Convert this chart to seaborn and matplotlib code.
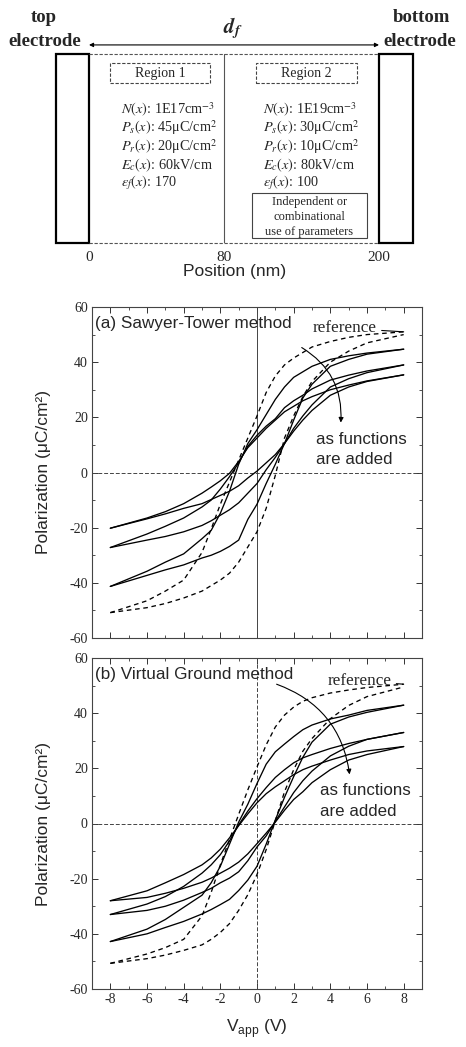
import numpy as np
import pandas as pd
import matplotlib
matplotlib.use("Agg")
import matplotlib.pyplot as plt
import seaborn as sns
from matplotlib.patches import Rectangle
from matplotlib.ticker import MultipleLocator

# ---------------- data ----------------
V = [-8, -6, -5, -4, -3, -2.5, -2, -1.5, -1, -0.5, 0, 0.5, 1, 1.5, 2, 2.5, 3, 4, 5, 6, 8]

# (a) Sawyer-Tower method
a_ref_desc = [-50.8, -46.5, -43, -39, -29, -20.5, -11.5, -3.5, 4.5, 12.5, 20.5, 29, 35, 39, 41.5, 43.5, 45.5, 47.5, 49, 50, 51]
a_ref_asc = [-50.8, -49, -47.5, -45.5, -43, -41, -39, -36.5, -32.5, -27, -21.5, -13, -1, 12.5, 20.5, 27.5, 33, 40, 44, 47, 50]
a3_desc = [-41.3, -35.8, -32.5, -29.5, -24, -21, -14.8, -6.8, 3, 10.5, 15.5, 21, 26.5, 31, 34.5, 36.5, 38.5, 41, 42.3, 43.3, 44.7]
a3_asc = [-41.3, -37.3, -35.3, -33.5, -31, -30, -28.6, -26.8, -24.5, -17, -11.5, -4, 3, 10.5, 19, 27, 32, 38.5, 41, 42.9, 44.7]
a2_desc = [-27.2, -22.3, -19.5, -16.5, -12.5, -10, -6, -1.5, 3.5, 9.5, 13.5, 16.8, 19.5, 23.5, 26, 28, 30.3, 33.5, 35.3, 36.8, 39]
a2_asc = [-27.2, -24.5, -23.2, -21.5, -19.2, -17.5, -15.5, -13.5, -11, -7.5, -4, 1, 5.5, 10.5, 16, 20.5, 24.5, 31, 34, 36.2, 39]
a1_desc = [-20.2, -16.5, -14.2, -11.3, -7.5, -5.3, -3, -0.3, 4, 9, 12.5, 16, 19, 22, 24, 26, 27.5, 30, 31.7, 33.2, 35.4]
a1_asc = [-20.2, -16.8, -15, -13, -11.3, -9.8, -8.3, -6.8, -4.8, -2, 0.5, 3.5, 6.5, 10.5, 15, 19, 22.5, 28, 31, 33, 35.4]

# (b) Virtual Ground method
b_ref_desc = [-50.7, -47.3, -45, -42, -33.5, -25, -15, -5.8, 3.3, 12.2, 20.5, 28.5, 35, 39.3, 42.2, 44.3, 45.6, 47.3, 48.4, 49.3, 50.5]
b_ref_asc = [-50.7, -49, -47.7, -46, -44, -42, -39.5, -36.3, -31.5, -25.8, -18.5, -9.5, 1, 11.5, 19.5, 26.2, 30.8, 38, 42.8, 46, 49.5]
b3_desc = [-42.8, -38.3, -34.8, -30.4, -26, -21.5, -15.5, -7.5, 0.5, 7, 14.5, 21.5, 26, 28.8, 31.5, 34, 35.7, 37.9, 39.3, 41, 42.9]
b3_asc = [-42.8, -40, -37.7, -35.5, -32.8, -31.2, -29.4, -27.5, -24.3, -20.5, -15.5, -7.5, 1.3, 9.5, 17, 24, 29.5, 36, 38.6, 40.3, 42.9]
b2_desc = [-33, -29.2, -26.5, -22.8, -18, -15, -11.3, -6.3, -0.5, 4.5, 9, 13, 16.7, 19.5, 22, 23.8, 25, 27.2, 29, 30.5, 33]
b2_asc = [-33, -31.5, -30, -27.8, -25, -23.5, -21.5, -19.8, -17.5, -13.5, -8.5, -4.5, 0.8, 6, 11.2, 15.5, 19, 24.5, 28, 30.5, 33]
b1_desc = [-28, -24.4, -21.5, -18.5, -15, -12.5, -9.3, -5.2, -0.8, 3.5, 7.5, 10.8, 13.3, 15.5, 17.7, 19.5, 20.8, 23, 25, 26.3, 27.9]
b1_asc = [-28, -26.8, -25.3, -23.5, -21.3, -19.8, -18, -16.2, -14, -11, -7.3, -3.5, 0.5, 4.8, 8.7, 11.5, 14.8, 19.5, 23, 25, 27.9]

# schematic
boundaries_nm = [0, 80, 200]
region_titles = ["Region 1", "Region 2"]
region1_params = ["$N(x)$: 1E17cm$^{-3}$", "$P_s(x)$: 45μC/cm$^{2}$", "$P_r(x)$: 20μC/cm$^{2}$",
                  "$E_c(x)$: 60kV/cm", r"$\varepsilon_f(x)$: 170"]
region2_params = ["$N(x)$: 1E19cm$^{-3}$", "$P_s(x)$: 30μC/cm$^{2}$", "$P_r(x)$: 10μC/cm$^{2}$",
                  "$E_c(x)$: 80kV/cm", r"$\varepsilon_f(x)$: 100"]
note_lines = ["Independent or", "combinational", "use of parameters"]

# ---------------- style ----------------
sns.set_theme(style="ticks")
plt.rcParams['font.family'] = ['Liberation Sans', 'DejaVu Sans']
plt.rcParams['axes.unicode_minus'] = False
SERIF = ['Liberation Serif', 'DejaVu Serif']

W, H = 466, 1047
fig = plt.figure(figsize=(W / 100, H / 100), dpi=100)
fig.patch.set_facecolor('white')


def fx(px):
    return px / W


def fy(py):
    return 1 - py / H


def panel_frame(branches):
    frames = []
    for name, (kind, vals) in branches.items():
        frames.append(pd.DataFrame({'V': V, 'P': vals, 'trace': name, 'kind': kind}))
    return pd.concat(frames, ignore_index=True)


df_a = panel_frame({
    'ref_d': ('reference', a_ref_desc), 'ref_a': ('reference', a_ref_asc),
    'l3_d': ('measured', a3_desc), 'l3_a': ('measured', a3_asc),
    'l2_d': ('measured', a2_desc), 'l2_a': ('measured', a2_asc),
    'l1_d': ('measured', a1_desc), 'l1_a': ('measured', a1_asc),
})
df_b = panel_frame({
    'ref_d': ('reference', b_ref_desc), 'ref_a': ('reference', b_ref_asc),
    'l3_d': ('measured', b3_desc), 'l3_a': ('measured', b3_asc),
    'l2_d': ('measured', b2_desc), 'l2_a': ('measured', b2_asc),
    'l1_d': ('measured', b1_desc), 'l1_a': ('measured', b1_asc),
})

ax_a = fig.add_axes([fx(92), fy(638), (422 - 92) / W, (638 - 307) / H])
ax_b = fig.add_axes([fx(92), fy(989), (422 - 92) / W, (989 - 658) / H])


def draw_panel(ax, df, ref_desc, label, vzero_ls, ref_xy, func_xy, arr_start, arr_end):
    ax.axhline(0, color='#444444', lw=0.7, ls=(0, (4, 2)), zorder=1)
    ax.axvline(0, color='#444444', lw=0.7, ls=vzero_ls, zorder=1)
    sns.lineplot(data=df, x='V', y='P', units='trace', estimator=None, sort=False,
                 style='kind', dashes={'measured': '', 'reference': (3.5, 2.8)},
                 color='black', linewidth=0.95, legend=False, ax=ax, zorder=3)
    ax.set_xlim(-9, 9)
    ax.set_ylim(-60, 60)
    ax.xaxis.set_major_locator(MultipleLocator(2))
    ax.xaxis.set_minor_locator(MultipleLocator(1))
    ax.yaxis.set_major_locator(MultipleLocator(20))
    ax.yaxis.set_minor_locator(MultipleLocator(10))
    ax.tick_params(which='both', direction='in', top=True, right=True, color='#333333',
                   labelsize=10, labelfontfamily='Liberation Serif', pad=3)
    ax.tick_params(which='major', length=4, width=0.7)
    ax.tick_params(which='minor', length=2, width=0.6)
    for s in ax.spines.values():
        s.set_color('#444444')
        s.set_linewidth(0.8)
    ax.set_xlabel('')
    ax.set_ylabel('Polarization (μC/cm²)', fontsize=12.5)
    ax.yaxis.set_label_coords(-0.125, 0.5)
    ax.text(0.01, 0.949, label, transform=ax.transAxes, ha='left', va='center', fontsize=12.3)
    ax.annotate('reference', xy=(V[-1], ref_desc[-1]), xytext=ref_xy, ha='center', va='center',
                family=SERIF, fontsize=12.3,
                arrowprops=dict(arrowstyle='-', lw=0.8, color='black', shrinkA=1, shrinkB=0))
    ax.text(func_xy[0], func_xy[1], 'as functions\nare added', ha='left', va='center',
            fontsize=12.2, linespacing=1.45)
    ax.annotate('', xy=arr_end, xytext=arr_start,
                arrowprops=dict(arrowstyle='-|>', connectionstyle='arc3,rad=-0.3',
                                color='black', lw=0.8, mutation_scale=7, shrinkA=0, shrinkB=0))


draw_panel(ax_a, df_a, a_ref_desc, '(a) Sawyer-Tower method', '-',
           (4.8, 52.3), (3.2, 8.4), (2.44, 45.3), (4.57, 18.1))
draw_panel(ax_b, df_b, b_ref_desc, '(b) Virtual Ground method', (0, (4, 2)),
           (5.6, 51.7), (3.44, 8.2), (1.07, 50.5), (5.05, 17.8))
ax_a.tick_params(labelbottom=False)
ax_b.set_xlabel(r'V$_{\mathregular{app}}$ (V)', fontsize=12.5, math_fontfamily='dejavusans')
ax_b.xaxis.set_label_coords(0.5, -0.085)

# ---------------- schematic ----------------
axd = fig.add_axes([fx(56), fy(243), (413 - 56) / W, (243 - 54) / H])
knots_nm = [-30, 0, 80, 200, 230]
knots_px = [0, 33, 168, 323, 357]
axd.set_xscale('function', functions=(lambda x: np.interp(x, knots_nm, knots_px),
                                      lambda u: np.interp(u, knots_px, knots_nm)))
axd.set_xlim(knots_nm[0], knots_nm[-1])
axd.set_ylim(0, 1)
for s in axd.spines.values():
    s.set_visible(False)
axd.set_yticks([])
axd.set_xticks(boundaries_nm)
axd.set_xticklabels([str(b) for b in boundaries_nm])
axd.tick_params(axis='x', length=0, pad=6, labelsize=11, labelfontfamily='Liberation Serif')
axd.set_xlabel('Position (nm)', fontsize=12.6)
axd.xaxis.set_label_coords(0.5, -0.11)

# electrodes
axd.add_patch(Rectangle((knots_nm[0], 0), boundaries_nm[0] - knots_nm[0], 1, fill=False,
                        ec='black', lw=1.6, clip_on=False))
axd.add_patch(Rectangle((boundaries_nm[-1], 0), knots_nm[-1] - boundaries_nm[-1], 1, fill=False,
                        ec='black', lw=1.6, clip_on=False))
# film borders and region divider
axd.plot([boundaries_nm[0], boundaries_nm[-1]], [1, 1], color='#555555', lw=0.8,
         ls=(0, (3, 1.5)), clip_on=False)
axd.plot([boundaries_nm[0], boundaries_nm[-1]], [0, 0], color='#555555', lw=0.8,
         ls=(0, (3, 1.5)), clip_on=False)
axd.plot([boundaries_nm[1], boundaries_nm[1]], [0, 1], color='#555555', lw=0.8)

# region title boxes
for (x0, w, cx), title in zip([(0.151, 0.28, 0.291), (0.560, 0.283, 0.702)], region_titles):
    axd.add_patch(Rectangle((x0, 0.847), w, 0.105, transform=axd.transAxes, fill=False,
                            ec='#444444', lw=0.8, ls=(0, (3, 1.5))))
    axd.text(cx, 0.899, title, transform=axd.transAxes, ha='center', va='center',
             family=SERIF, fontsize=10)

line_y = [0.704, 0.608, 0.508, 0.413, 0.317]
for xs, params in [(0.182, region1_params), (0.580, region2_params)]:
    for yy, t in zip(line_y, params):
        axd.text(xs, yy, t, transform=axd.transAxes, ha='left', va='center',
                 family=SERIF, fontsize=10.3, math_fontfamily='stix')

axd.add_patch(Rectangle((0.549, 0.026), 0.322, 0.239, transform=axd.transAxes, fill=False,
                        ec='#444444', lw=0.8))
for yy, t in zip([0.217, 0.138, 0.058], note_lines):
    axd.text(0.71, yy, t, transform=axd.transAxes, ha='center', va='center',
             family=SERIF, fontsize=9)

# thickness arrow and electrode labels
axd.annotate('', xy=(boundaries_nm[-1], 1.048), xytext=(boundaries_nm[0], 1.048),
             xycoords=('data', 'axes fraction'), textcoords=('data', 'axes fraction'),
             arrowprops=dict(arrowstyle='<|-|>', lw=0.8, color='black', mutation_scale=6,
                             shrinkA=0, shrinkB=0), annotation_clip=False)
fig.text(fx(233), fy(28), r'$\mathbfit{d}_{\mathbfit{f}}$', ha='center', va='center',
         fontsize=15, math_fontfamily='stix')
fig.text(fx(44), fy(18), 'top', ha='center', va='center', family=SERIF,
         fontweight='bold', fontsize=13.5)
fig.text(fx(45), fy(42), 'electrode', ha='center', va='center', family=SERIF,
         fontweight='bold', fontsize=13.5)
fig.text(fx(421), fy(18), 'bottom', ha='center', va='center', family=SERIF,
         fontweight='bold', fontsize=13.5)
fig.text(fx(420), fy(42), 'electrode', ha='center', va='center', family=SERIF,
         fontweight='bold', fontsize=13.5)

fig.savefig('out.png', dpi=100, facecolor='white')
